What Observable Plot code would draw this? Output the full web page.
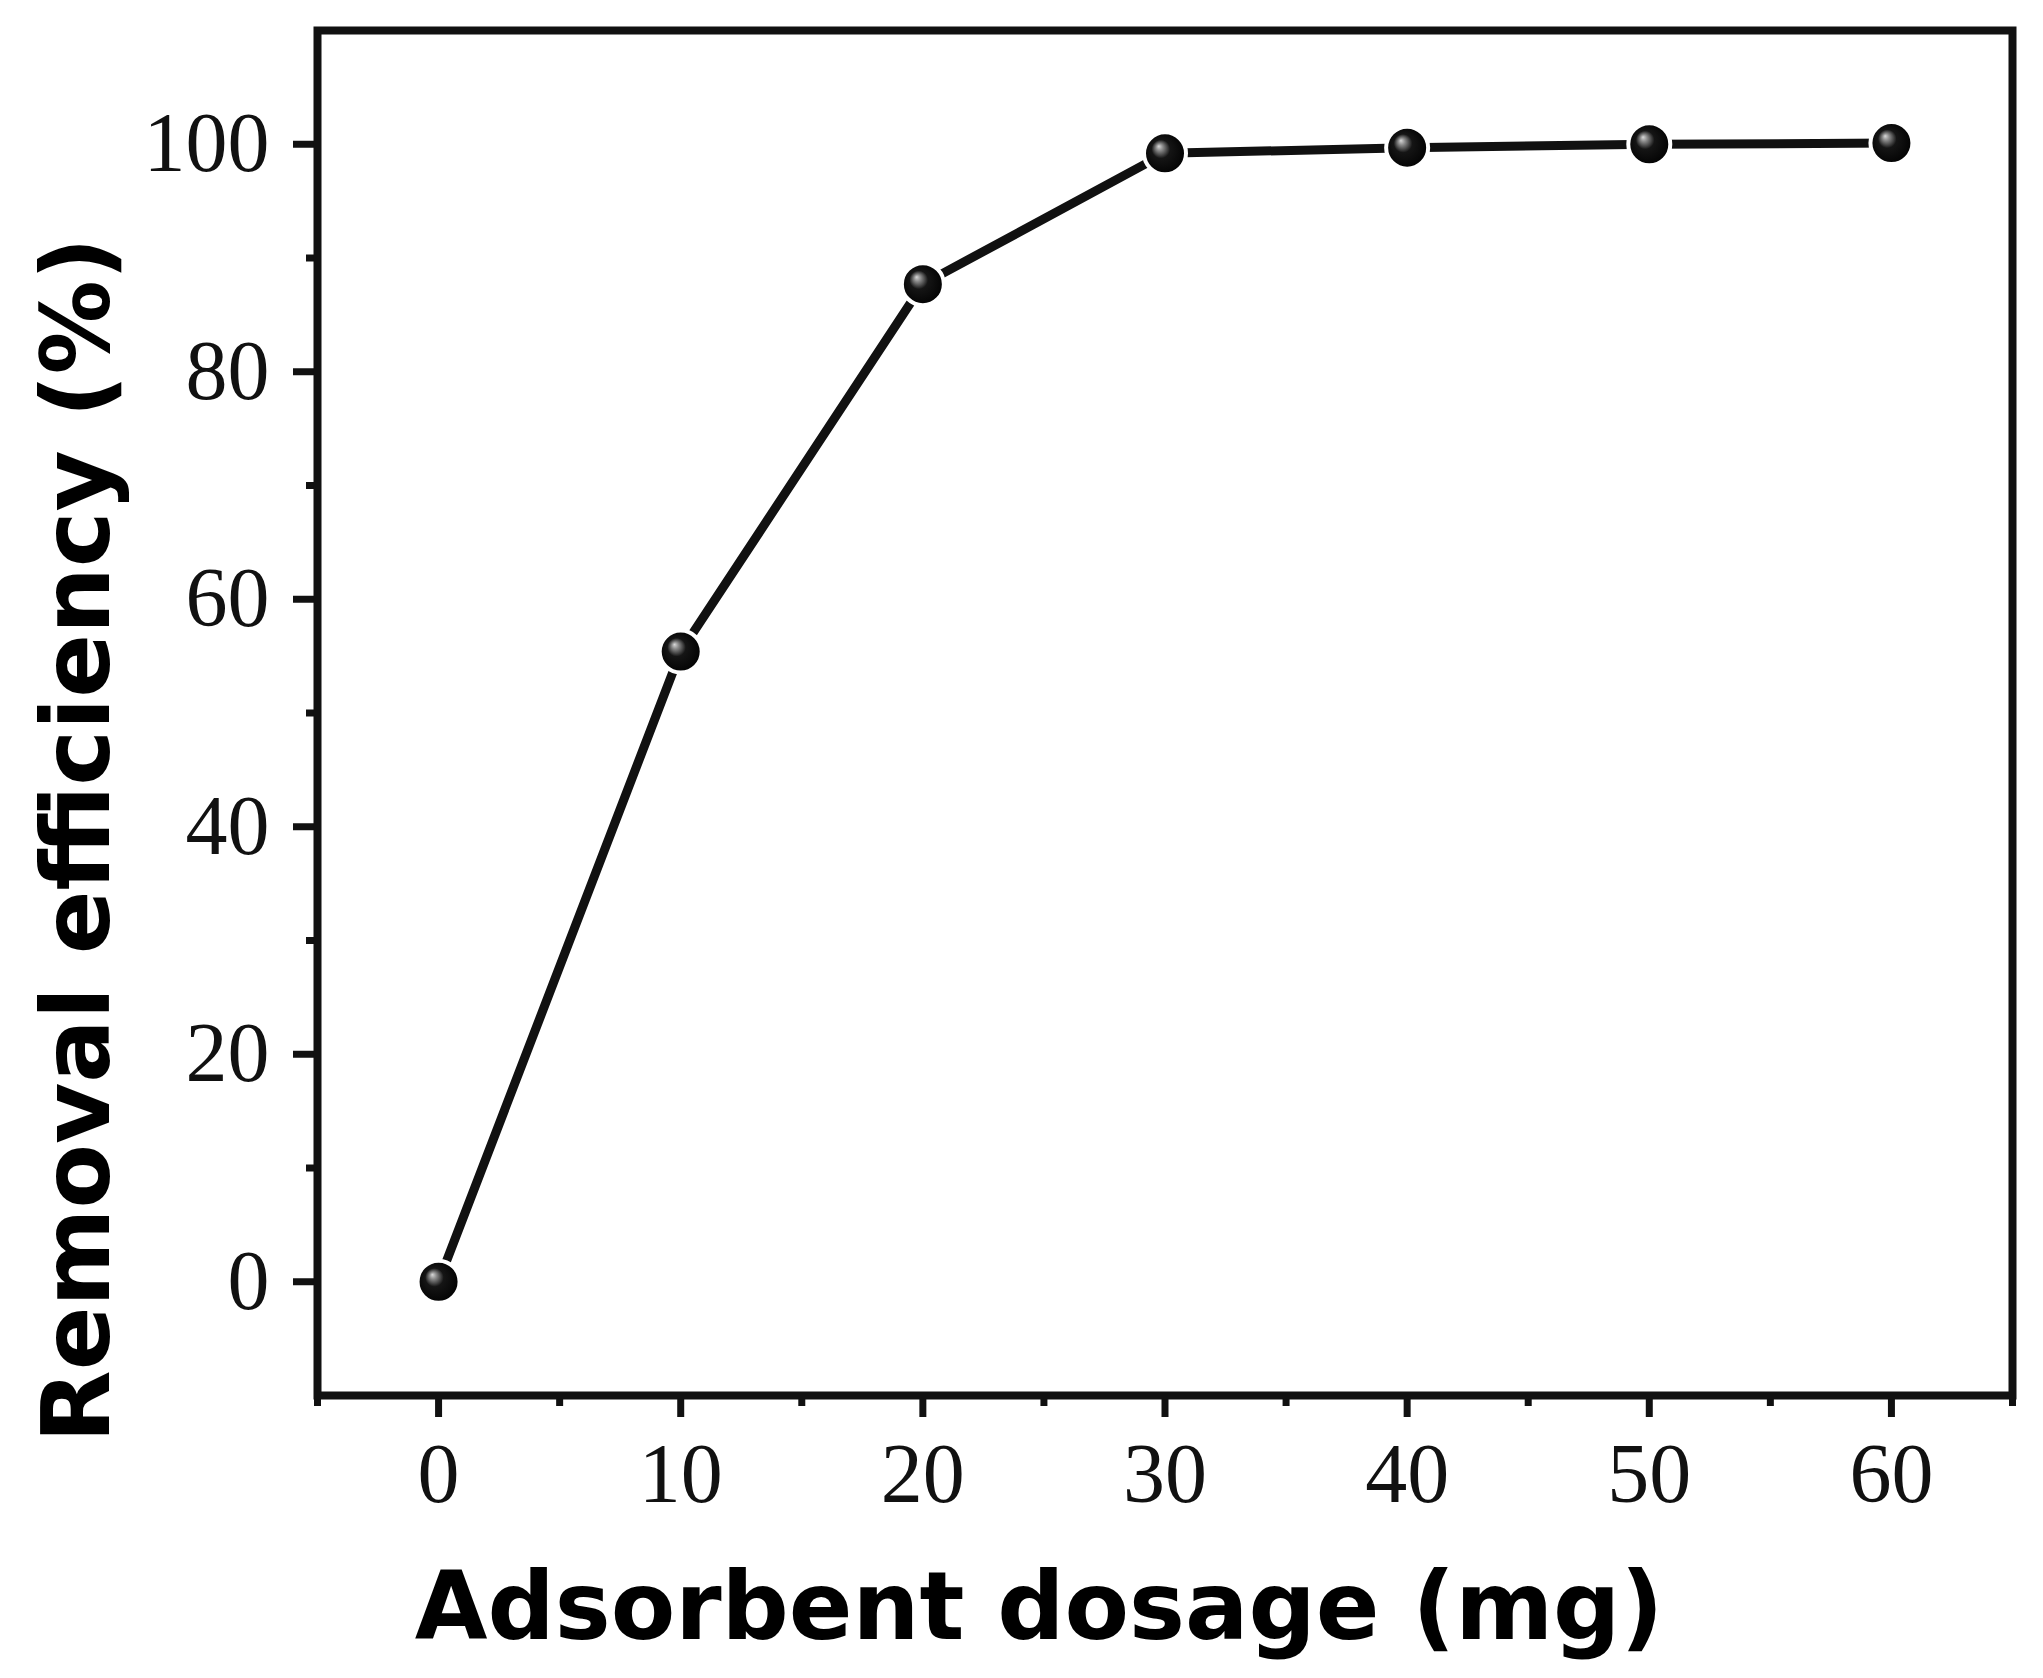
<!DOCTYPE html>
<html>
<head>
<meta charset="utf-8">
<script src="https://cdn.jsdelivr.net/npm/d3@7"></script>
<script src="https://cdn.jsdelivr.net/npm/@observablehq/plot@0.6"></script>
<style>
  html, body { margin: 0; padding: 0; background: #fff; }
</style>
</head>
<body>
<div id="chart"></div>
<script>
const dosage = [0, 10, 20, 30, 40, 50, 60];
const efficiency = [0, 55.4, 87.7, 99.2, 99.7, 100.0, 100.1];
const xMajorTicks = [0, 10, 20, 30, 40, 50, 60];
const xMinorTicks = [-5, 5, 15, 25, 35, 45, 55, 65];
const yMajorTicks = [0, 20, 40, 60, 80, 100];
const yMinorTicks = [10, 30, 50, 70, 90];
const xTitle = "Adsorbent dosage (mg)";
const yTitle = "Removal efficiency (%)";

const data = dosage.map((d, i) => ({dosage: d, efficiency: efficiency[i]}));

const ink = "#111";
const titleFont = {fontFamily: "DejaVu Sans", fontWeight: "bold", fontSize: 94, fill: "#000",
                   textAnchor: "middle", lineAnchor: "middle"};

const chart = Plot.plot({
  width: 2043,
  height: 1678,
  marginLeft: 317,
  marginRight: 31,
  marginTop: 30,
  marginBottom: 283,
  style: {fontFamily: "Liberation Serif", fontSize: "84px", color: "#111", background: "#fff"},
  x: {domain: [-5, 65], nice: false},
  y: {domain: [-10, 110], nice: false},
  marks: [
    Plot.axisX({ticks: xMajorTicks, tickSize: 22, tickPadding: 25, strokeWidth: 7, stroke: ink, label: null, tickFormat: d => String(d)}),
    Plot.axisX({ticks: xMinorTicks, tickSize: 11, strokeWidth: 7, stroke: ink, label: null, tickFormat: () => ""}),
    Plot.axisY({ticks: yMajorTicks, tickSize: 24, tickPadding: 24, strokeWidth: 7, stroke: ink, label: null, tickFormat: d => String(d)}),
    Plot.axisY({ticks: yMinorTicks, tickSize: 11, strokeWidth: 7, stroke: ink, label: null, tickFormat: () => ""}),
    Plot.frame({stroke: ink, strokeWidth: 8}),
    Plot.line(data, {x: "dosage", y: "efficiency", stroke: ink, strokeWidth: 9}),
    Plot.dot(data, {x: "dosage", y: "efficiency", r: 21, fill: "url(#sphere)", stroke: "#fff", strokeWidth: 4}),
    Plot.text([xTitle], {frameAnchor: "bottom", dx: -126, dy: 213, text: d => d, ...titleFont}),
    Plot.text([yTitle], {frameAnchor: "left", dx: -239, dy: 127, rotate: -90, text: d => d, ...titleFont})
  ]
});

const svg = d3.select(chart);
const defs = svg.insert("defs", ":first-child");
const g = defs.append("radialGradient")
  .attr("id", "sphere")
  .attr("cx", "48%").attr("cy", "50%").attr("r", "55%")
  .attr("fx", "35%").attr("fy", "33%");
g.append("stop").attr("offset", "0%").attr("stop-color", "#d8d8d8");
g.append("stop").attr("offset", "15%").attr("stop-color", "#8a8a8a");
g.append("stop").attr("offset", "40%").attr("stop-color", "#151515");
g.append("stop").attr("offset", "100%").attr("stop-color", "#000");

document.getElementById("chart").appendChild(chart);
</script>
</body>
</html>
